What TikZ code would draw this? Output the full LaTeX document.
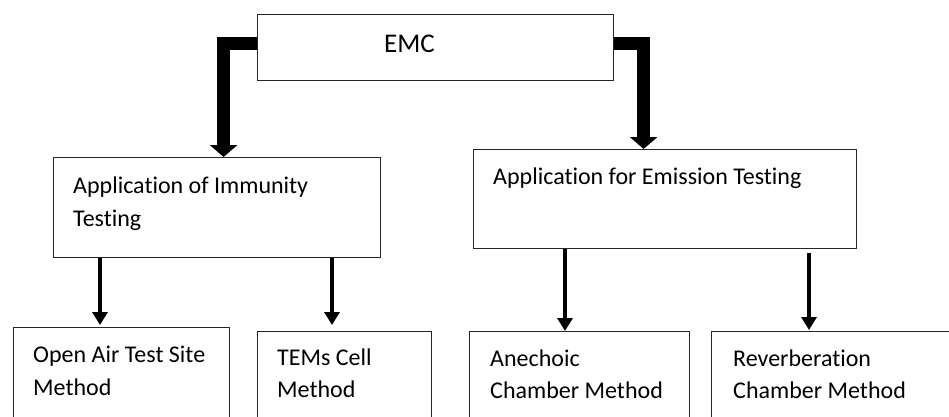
\documentclass[tikz,border=0pt]{standalone}
\usepackage{fontspec}
\setmainfont[Ligatures=NoCommon]{Carlito}
\usetikzlibrary{arrows.meta}
\begin{document}
\begin{tikzpicture}[x=1pt,y=-1pt,
  box/.style={draw=black!85,line width=1.2pt,rectangle,inner sep=0pt,anchor=north west},
  lbl/.style={anchor=base west,inner sep=0pt,align=left,font=\fontsize{24}{32.5}\selectfont},
  bigarrow/.style={line width=13pt,line join=miter,-{Triangle[width=27pt,length=12pt]}},
  smallarrow/.style={line width=4.5pt,-{Triangle[width=15pt,length=13pt]}}]

% page area
\fill[white] (0,0) rectangle (949,417);
\clip (0,0) rectangle (949,417);

% boxes
\node[box,minimum width=356pt,minimum height=66pt] (emc) at (257,14) {};
\node[box,minimum width=327pt,minimum height=100pt] (imm) at (53,157) {};
\node[box,minimum width=383pt,minimum height=99pt] (emis) at (473,149) {};
\node[box,minimum width=216pt,minimum height=110pt] (oats) at (13,327) {};
\node[box,minimum width=174pt,minimum height=110pt] (tems) at (257,331) {};
\node[box,minimum width=220pt,minimum height=110pt] (anec) at (469,331) {};
\node[box,minimum width=250pt,minimum height=110pt] (reverb) at (711,331) {};

% labels (base anchor of a two-line label sits on its last line)
\node[lbl,font=\fontsize{27}{32}\selectfont] (temc) at (384,53) {EMC};
\node[lbl] (timm) at (73,226) {Application of Immunity\\Testing};
\node[lbl] (temis) at (493,184) {Application for Emission Testing};
\node[lbl] (toats) at (33,395) {Open Air Test Site\\Method};
\node[lbl] (ttems) at (277,397.5) {TEMs Cell\\Method};
\node[lbl] (tanec) at (490,398.5) {Anechoic\\Chamber Method};
\node[lbl] (treverb) at (733,398.5) {Reverberation\\Chamber Method};

% main branches
\draw[bigarrow] ([yshift=4pt]emc.west) -| ([xshift=6.5pt]imm.north);
\draw[bigarrow] ([yshift=4pt]emc.east) -| ([xshift=-21.5pt]emis.north);

% sub branches
\draw[smallarrow] ([xshift=47pt]imm.south west) -- ([xshift=87pt,yshift=2pt]oats.north west);
\draw[smallarrow] ([xshift=279pt]imm.south west) -- ([xshift=75pt,yshift=6pt]tems.north west);
\draw[smallarrow] ([xshift=92pt]emis.south west) -- ([xshift=96pt]anec.north west);
\draw[smallarrow] ([xshift=336pt,yshift=-4pt]emis.south west) -- ([xshift=98pt,yshift=1pt]reverb.north west);
\end{tikzpicture}
\end{document}
